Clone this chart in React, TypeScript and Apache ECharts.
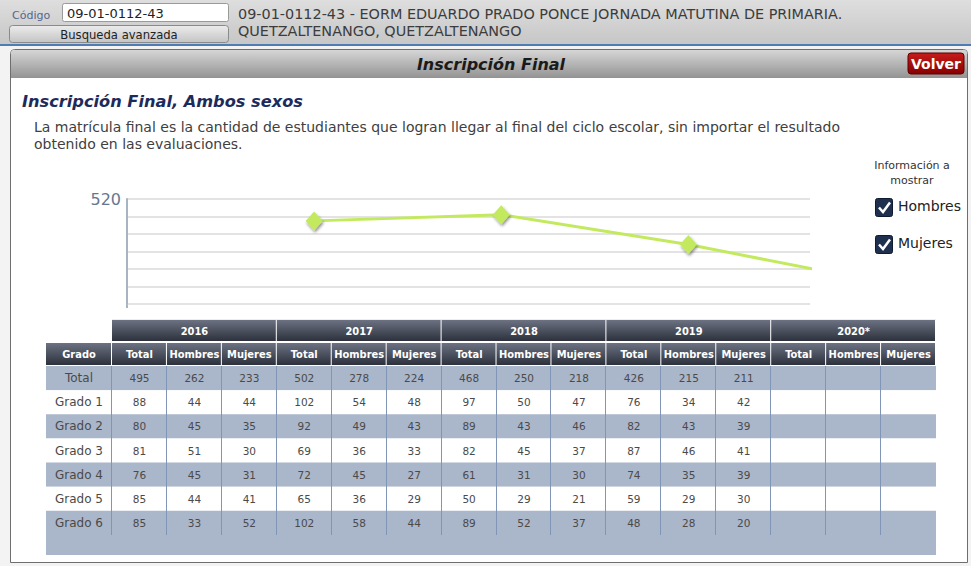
import React, { useEffect, useRef } from 'react';
import * as echarts from 'echarts';

// ---------- data ----------
const chartYears = [2016, 2017, 2018, 2019];
const chartTotals = [495, 502, 468, 426];
const yMin = 400;
const yMax = 520;
const yStep = 20;
const yShownLabel = 520;

const tableYears = ['2016', '2017', '2018', '2019', '2020*'];
const subHeaders = ['Total', 'Hombres', 'Mujeres'];
const gradeLabels = ['Total', 'Grado 1', 'Grado 2', 'Grado 3', 'Grado 4', 'Grado 5', 'Grado 6'];

const total2016 = [495, 88, 80, 81, 76, 85, 85];
const men2016 = [262, 44, 45, 51, 45, 44, 33];
const women2016 = [233, 44, 35, 30, 31, 41, 52];
const total2017 = [502, 102, 92, 69, 72, 65, 102];
const men2017 = [278, 54, 49, 36, 45, 36, 58];
const women2017 = [224, 48, 43, 33, 27, 29, 44];
const total2018 = [468, 97, 89, 82, 61, 50, 89];
const men2018 = [250, 50, 43, 45, 31, 29, 52];
const women2018 = [218, 47, 46, 37, 30, 21, 37];
const total2019 = [426, 76, 82, 87, 74, 59, 48];
const men2019 = [215, 34, 43, 46, 35, 29, 28];
const women2019 = [211, 42, 39, 41, 39, 30, 20];
const total2020: (number | null)[] = [null, null, null, null, null, null, null];
const men2020: (number | null)[] = [null, null, null, null, null, null, null];
const women2020: (number | null)[] = [null, null, null, null, null, null, null];

const tableColumns = [
  total2016, men2016, women2016,
  total2017, men2017, women2017,
  total2018, men2018, women2018,
  total2019, men2019, women2019,
  total2020, men2020, women2020,
];

const schoolCode = '09-01-0112-43';
const schoolLine1 = '09-01-0112-43 - EORM EDUARDO PRADO PONCE JORNADA MATUTINA DE PRIMARIA.';
const schoolLine2 = 'QUETZALTENANGO, QUETZALTENANGO';
const panelTitle = 'Inscripción Final';
const subTitle = 'Inscripción Final, Ambos sexos';
const descLine1 = 'La matrícula final es la cantidad de estudiantes que logran llegar al final del ciclo escolar, sin importar el resultado';
const descLine2 = 'obtenido en las evaluaciones.';
const legendTitle = ['Información a', 'mostrar'];
const legendItems = ['Hombres', 'Mujeres'];

// ---------- styling ----------
const FONT = '"DejaVu Sans", Verdana, sans-serif';
const FONT_C = '"DejaVu Sans Condensed", "DejaVu Sans", sans-serif';

const vgrad = (c1: string, c2: string) => ({
  type: 'linear', x: 0, y: 0, x2: 0, y2: 1,
  colorStops: [{ offset: 0, color: c1 }, { offset: 1, color: c2 }],
});

function text(x: number, y: number, t: string, style: any = {}) {
  return {
    type: 'text', x, y, silent: true,
    style: {
      text: t, fill: '#333', fontFamily: FONT, fontSize: 12,
      align: 'left', verticalAlign: 'middle', ...style,
    },
  };
}

function buildGraphics() {
  const g: any[] = [];
  // page background and header
  g.push({ type: 'rect', shape: { x: 0, y: 0, width: 971, height: 566 }, style: { fill: '#f3f3f3' } });
  g.push({ type: 'rect', shape: { x: 0, y: 0, width: 971, height: 45 }, style: { fill: vgrad('#dedede', '#c6c6c6') } });
  g.push({ type: 'rect', shape: { x: 0, y: 44, width: 971, height: 2 }, style: { fill: '#4f7db3' } });
  g.push(text(12, 15, 'Código', { fill: '#55668c', fontSize: 11 }));
  g.push({ type: 'rect', shape: { x: 62.5, y: 3.5, width: 166, height: 18, r: 2 }, style: { fill: '#fff', stroke: '#9a9a9a' } });
  g.push(text(67, 13, schoolCode, { fill: '#222', fontSize: 13 }));
  g.push({ type: 'rect', shape: { x: 9.5, y: 25.5, width: 219, height: 17, r: 3 }, style: { fill: vgrad('#ececec', '#c4c4c4'), stroke: '#8a8a8a' } });
  g.push(text(119, 34.5, 'Busqueda avanzada', { fill: '#222', fontSize: 11.6, align: 'center' }));
  g.push(text(238, 14, schoolLine1, { fill: '#3c3c3c', fontSize: 14.4 }));
  g.push(text(238, 31, schoolLine2, { fill: '#3c3c3c', fontSize: 14.4 }));

  // panel
  g.push({ type: 'rect', shape: { x: 10.5, y: 49.5, width: 957, height: 513, r: [4, 4, 0, 0] }, style: { fill: '#fff', stroke: '#6e6e6e' } });
  g.push({ type: 'rect', shape: { x: 11, y: 50, width: 956, height: 28, r: [3, 3, 0, 0] }, style: { fill: vgrad('#d6d6d6', '#939393') } });
  g.push(text(491, 64.5, panelTitle, { fill: '#1a1a1a', fontSize: 16, fontWeight: 'bold', fontStyle: 'italic', align: 'center' }));
  g.push({ type: 'rect', shape: { x: 908, y: 53, width: 56, height: 21, r: 3 }, style: { fill: vgrad('#c81c1c', '#870000'), stroke: '#5e0000' } });
  g.push(text(936, 63.5, 'Volver', { fill: '#fff', fontSize: 14, fontWeight: 'bold', align: 'center' }));

  g.push(text(22, 101, subTitle, { fill: '#1d2b5c', fontSize: 16.2, fontWeight: 'bold', fontStyle: 'italic' }));
  g.push(text(34, 126.5, descLine1, { fill: '#404040', fontSize: 14 }));
  g.push(text(34, 144, descLine2, { fill: '#404040', fontSize: 14 }));

  // legend
  g.push(text(912, 165, legendTitle[0], { fill: '#333', fontSize: 11, align: 'center' }));
  g.push(text(912, 180, legendTitle[1], { fill: '#333', fontSize: 11, align: 'center' }));
  legendItems.forEach((name, i) => {
    const by = 198.5 + i * 37;
    g.push({ type: 'rect', shape: { x: 875.5, y: by, width: 17, height: 18, r: 2 }, style: { fill: '#1f2f4e', stroke: '#0f1b30' } });
    g.push({ type: 'polyline', shape: { points: [[879, by + 9], [883, by + 13.5], [890, by + 4]] }, style: { stroke: '#fff', lineWidth: 2.5, fill: null } });
    g.push(text(898, by + 7, name, { fill: '#222', fontSize: 14 }));
  });

  // small axis extension below plot
  g.push({ type: 'line', shape: { x1: 127, y1: 304, x2: 127, y2: 308 }, style: { stroke: '#a9b3c2', lineWidth: 2 } });
  g.push({ type: 'line', shape: { x1: 112, y1: 319.5, x2: 936, y2: 319.5 }, style: { stroke: '#ececec', lineWidth: 1 } });

  // table
  const x0 = 112;
  const colW = (936 - 112) / 15;
  const gradeX = 46;
  const h1Top = 320, h1H = 21;
  const h2Top = 343, h2H = 22;
  const rowTop = 366;
  const rowH = (535 - 366) / 7;
  const headGrad = () => vgrad('#6c7282', '#2c313c');

  tableYears.forEach((yr, i) => {
    const x = x0 + i * 3 * colW;
    g.push({ type: 'rect', shape: { x, y: h1Top, width: 3 * colW - 1, height: h1H }, style: { fill: headGrad() } });
    g.push(text(x + 1.5 * colW, h1Top + h1H / 2 + 0.5, yr, { fill: '#fff', fontSize: 11, fontWeight: 'bold', align: 'center', fontFamily: FONT_C }));
  });
  g.push({ type: 'rect', shape: { x: gradeX, y: h2Top, width: x0 - gradeX - 1, height: h2H }, style: { fill: headGrad() } });
  g.push(text((gradeX + x0) / 2, h2Top + h2H / 2 + 0.5, 'Grado', { fill: '#fff', fontSize: 11, fontWeight: 'bold', align: 'center', fontFamily: FONT_C }));
  for (let c = 0; c < 15; c++) {
    const x = x0 + c * colW;
    g.push({ type: 'rect', shape: { x, y: h2Top, width: colW - 1, height: h2H }, style: { fill: headGrad() } });
    g.push(text(x + colW / 2, h2Top + h2H / 2 + 0.5, subHeaders[c % 3], { fill: '#fff', fontSize: 11, fontWeight: 'bold', align: 'center', fontFamily: FONT_C }));
  }
  // rows
  gradeLabels.forEach((lab, r) => {
    const y = rowTop + r * rowH;
    const fill = r % 2 === 0 ? '#aab6c9' : '#ffffff';
    g.push({ type: 'rect', shape: { x: gradeX, y, width: 936 - gradeX, height: rowH }, style: { fill } });
    g.push(text((gradeX + x0) / 2, y + rowH / 2, lab, { fill: '#4a4a4a', fontSize: 12, align: 'center' }));
    tableColumns.forEach((col, c) => {
      const v = col[r];
      if (v !== null && v !== undefined) {
        g.push(text(x0 + c * colW + colW / 2, y + rowH / 2, String(v), { fill: '#4a4a4a', fontSize: 10.5, align: 'center' }));
      }
    });
  });
  // footer band
  g.push({ type: 'rect', shape: { x: gradeX, y: 535, width: 936 - gradeX, height: 20 }, style: { fill: '#aab6c9' } });
  // vertical separators
  for (let c = 0; c < 15; c++) {
    const x = Math.round(x0 + c * colW) - 0.5;
    g.push({ type: 'line', shape: { x1: x, y1: rowTop, x2: x, y2: 535 }, style: { stroke: '#8196b6', lineWidth: 1 } });
  }
  return g;
}

export default function App() {
  const ref = useRef<HTMLDivElement>(null);
  useEffect(() => {
    if (!ref.current) return;
    const chart = echarts.init(ref.current, null, { renderer: 'svg' });
    chart.setOption({
      animation: false,
      backgroundColor: '#f3f3f3',
      graphic: { elements: buildGraphics() },
      grid: { left: 127, right: 161, top: 199, bottom: 262, containLabel: false },
      xAxis: {
        type: 'value', min: 2015, max: 2018.65, show: false,
      },
      yAxis: {
        type: 'value', min: yMin, max: yMax, interval: yStep,
        axisLine: { show: true, lineStyle: { color: '#a9b3c2', width: 2 } },
        axisTick: { show: false },
        axisLabel: {
          formatter: (v: number) => (v === yShownLabel ? String(v) : ''),
          color: '#667791', fontSize: 16, fontFamily: FONT, margin: 6,
        },
        splitLine: { show: true, lineStyle: { color: '#e3e3e3', width: 2 } },
      },
      series: [{
        type: 'line',
        clip: true,
        data: chartYears.map((y, i) => [y, chartTotals[i]]),
        symbol: 'diamond',
        symbolSize: [17, 19],
        lineStyle: { color: '#c3ea5e', width: 3 },
        itemStyle: {
          color: '#c3ea5e',
          shadowColor: 'rgba(0,0,0,0.45)', shadowBlur: 3, shadowOffsetX: 1, shadowOffsetY: 2,
        },
        z: 5,
      }],
    });
    return () => chart.dispose();
  }, []);
  return <div ref={ref} style={{ position: 'fixed', left: 0, top: 0, width: 971, height: 566 }} />;
}
